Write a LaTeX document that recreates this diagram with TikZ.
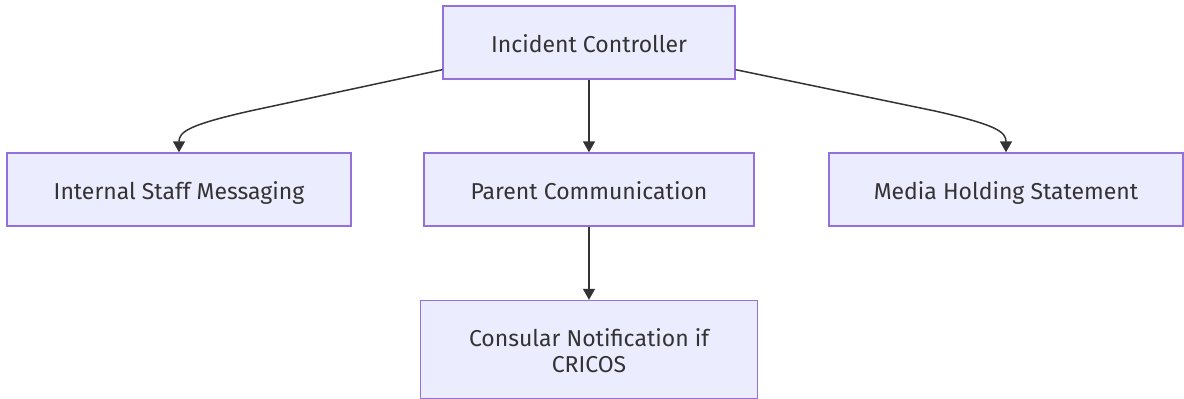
\documentclass[tikz,border=0pt]{standalone}
\usepackage{fontspec}
\setmainfont{Fira Sans}
\usetikzlibrary{arrows.meta,calc}
\definecolor{nodefill}{HTML}{ECECFF}
\definecolor{nodeborder}{HTML}{9370DB}
\definecolor{txt}{HTML}{333333}
\tikzset{
  box/.style={draw=nodeborder, fill=nodefill, line width=1.4pt, rectangle, inner sep=0pt,
    text=txt, font=\fontsize{23}{26}\selectfont, align=center,
    text height=20pt, text depth=0.4pt},
  arr/.style={draw=txt, line width=1.5pt, -{Triangle[length=11pt,width=12pt]}}
}
\begin{document}
\begin{tikzpicture}[x=1pt,y=-1pt]
\useasboundingbox (0,0) rectangle (1184,399);
\node[box, minimum width=292pt, minimum height=73pt] (ic) at (589,42.5) {Incident Controller};
\node[box, minimum width=344pt, minimum height=73pt] (ism) at (179,189.5) {Internal Staff Messaging};
\node[box, minimum width=330pt, minimum height=73pt] (pc) at (589,189.5) {Parent Communication};
\node[box, minimum width=354pt, minimum height=73pt] (mhs) at (1006,189.5) {Media Holding Statement};
\node[box, minimum width=337pt, minimum height=98pt, text height=45pt, text depth=0pt] (cn) at (589,349.5) {Consular Notification if\\CRICOS};
\coordinate (l0) at ($(ic.south west)+(0,-10)$);
\coordinate (r0) at ($(ic.south east)+(0,-10)$);
\draw[arr] (l0) -- (250,111) .. controls (188,125) and (179,132) .. (ism.north);
\draw[arr] (r0) -- (935,111) .. controls (997,125) and (1006,132) .. (mhs.north);
\draw[arr] (ic.south) -- (pc.north);
\draw[arr] (pc.south) -- (cn.north);
\end{tikzpicture}
\end{document}
